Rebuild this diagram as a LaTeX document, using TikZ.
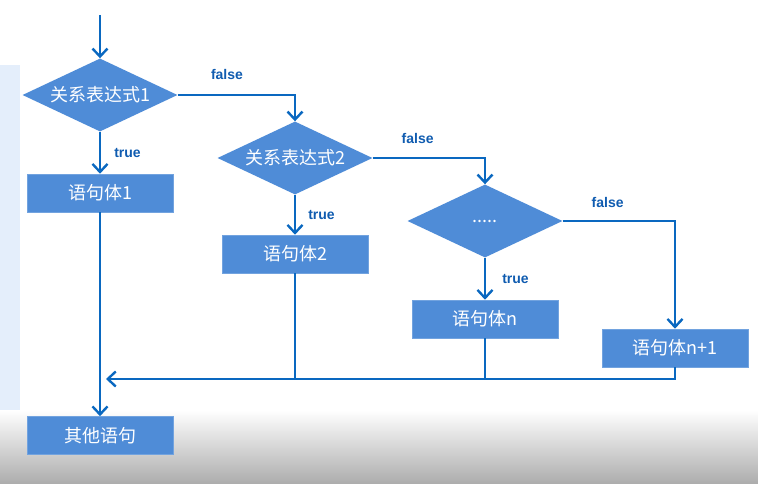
\documentclass[tikz,border=0pt]{standalone}
\usepackage{fontspec}
\setmainfont{Liberation Sans}
\newfontfamily\cjk{Noto Sans CJK SC}
\usetikzlibrary{calc, positioning, arrows.meta, shapes.geometric}

\definecolor{boxblue}{RGB}{79,140,215}
\definecolor{lineblue}{RGB}{10,104,192}
\definecolor{textblue}{RGB}{16,92,176}
\definecolor{bandblue}{RGB}{228,238,251}

\begin{document}
\begin{tikzpicture}[
        x=1pt, y=-1pt,
        cond/.style={diamond, aspect=2.1, inner sep=0pt, minimum width=155pt, minimum height=73pt, fill=boxblue, text=white, font=\cjk\fontsize{18}{21}\selectfont},
        stmt/.style={rectangle, minimum width=146pt, minimum height=38pt, fill=boxblue, draw=boxblue!80!white, line width=0.6pt, text=white, font=\cjk\fontsize{18}{21}\selectfont},
        flow/.style={draw=lineblue, line width=2.6pt, -{Straight Barb[length=8pt, width=15pt, line width=2.4pt]}},
        link/.style={draw=lineblue, line width=2.6pt},
        lbl/.style={inner sep=0pt, text=textblue, font=\bfseries\fontsize{14}{16}\selectfont}
    ]
    \useasboundingbox (0,0) rectangle (758,484);

    % ================= Background =================
    \fill[bandblue] (0,65) rectangle (20,417);
    \shade[top color=white, bottom color=gray!65] (0,410) rectangle (758,484);

    % ================= Nodes =================
    \coordinate (start) at (100,15);
    \node[cond] (cond1) at (100,95) {关系表达式1};
    \node[stmt] (body1) at (100,193) {语句体1};

    \node[cond] (cond2) at (295,158) {关系表达式2};
    \node[stmt] (body2) at (295,254) {语句体2};

    \node[cond] (condn) at (485,221) {.....};
    \node[stmt] (bodyn) at (485,319) {语句体n};

    \node[stmt] (bodyelse) at (675,348) {语句体n+1};

    \node[stmt] (other) at (100,435.5) {其他语句};

    \coordinate (merge) at (106,379);

    % ================= Branches =================
    \draw[flow] (start) -- (cond1.north);

    \draw[flow] (cond1.south) -- node[lbl, midway, right=13pt] {true} (body1.north);
    \draw[flow] (cond1.east) -| node[lbl, pos=0.21, above=14pt] {false} (cond2.north);

    \draw[flow] (cond2.south) -- node[lbl, midway, right=12pt] {true} (body2.north);
    \draw[flow] (cond2.east) -| node[lbl, pos=0.2, above=13pt] {false} (condn.north);

    \draw[flow] (condn.south) -- node[lbl, midway, right=16pt] {true} (bodyn.north);
    \draw[flow] (condn.east) -| node[lbl, pos=0.2, above=12pt] {false} (bodyelse.north);

    % ================= Merge =================
    \draw[flow] (bodyelse.south) |- (merge);
    \draw[link] (body2.south) -- (body2.south |- merge);
    \draw[link] (bodyn.south) -- (bodyn.south |- merge);
    \draw[flow] (body1.south) -- (other.north);

\end{tikzpicture}
\end{document}
